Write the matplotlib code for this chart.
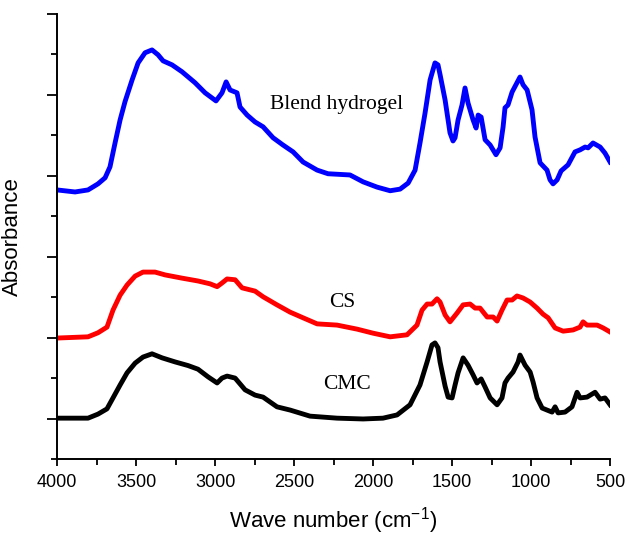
import matplotlib
matplotlib.use("Agg")
import matplotlib.pyplot as plt
from matplotlib.ticker import MultipleLocator, NullFormatter

# ---- data (wavenumber cm-1, absorbance in arbitrary offset units) ----
blend_wn = [4000, 3886, 3804, 3741, 3696, 3665, 3633, 3601, 3570, 3525, 3487, 3443, 3399,
            3361, 3329, 3272, 3209, 3127, 3063, 2994, 2956, 2930, 2905, 2861, 2842, 2797,
            2747, 2696, 2633, 2570, 2506, 2443, 2354, 2285, 2146, 2063, 1975, 1892, 1829,
            1778, 1734, 1703, 1671, 1639, 1608, 1589, 1576, 1544, 1513, 1494, 1481, 1462,
            1437, 1418, 1399, 1367, 1348, 1335, 1316, 1291, 1259, 1222, 1196, 1177, 1165,
            1146, 1120, 1089, 1070, 1051, 1025, 994, 975, 943, 899, 880, 861, 835, 810,
            766, 722, 690, 658, 639, 608, 563, 532, 500]
blend_ab = [6.65, 6.60, 6.65, 6.80, 6.95, 7.22, 7.81, 8.38, 8.83, 9.37, 9.79, 10.04, 10.11,
            9.99, 9.84, 9.74, 9.57, 9.30, 9.05, 8.85, 9.05, 9.32, 9.12, 9.05, 8.70, 8.50,
            8.33, 8.21, 7.94, 7.76, 7.59, 7.34, 7.14, 7.05, 7.02, 6.85, 6.72, 6.63, 6.67,
            6.82, 7.14, 7.81, 8.55, 9.37, 9.79, 9.74, 9.50, 8.87, 8.06, 7.86, 7.94, 8.38,
            8.75, 9.17, 8.80, 8.38, 8.18, 8.50, 8.45, 7.89, 7.76, 7.52, 7.69, 8.21, 8.68,
            8.75, 9.07, 9.30, 9.44, 9.25, 9.12, 8.63, 7.96, 7.32, 7.14, 6.90, 6.80, 6.90,
            7.12, 7.27, 7.59, 7.64, 7.71, 7.69, 7.81, 7.71, 7.56, 7.34]

cs_wn = [4000, 3804, 3741, 3684, 3646, 3601, 3557, 3506, 3456, 3380, 3316, 3209, 3108,
         3032, 2987, 2956, 2924, 2873, 2829, 2747, 2696, 2608, 2525, 2443, 2354, 2228,
         2101, 2000, 1892, 1785, 1722, 1690, 1658, 1627, 1595, 1576, 1544, 1513, 1468,
         1430, 1386, 1354, 1323, 1278, 1240, 1215, 1184, 1152, 1120, 1089, 1051, 1006,
         962, 924, 892, 848, 797, 734, 690, 671, 646, 582, 544, 500]
cs_ab = [2.99, 3.02, 3.12, 3.26, 3.68, 4.05, 4.30, 4.52, 4.62, 4.62, 4.55, 4.47, 4.40,
         4.33, 4.26, 4.35, 4.45, 4.43, 4.23, 4.15, 4.01, 3.81, 3.63, 3.49, 3.34, 3.31,
         3.21, 3.11, 3.02, 3.07, 3.31, 3.68, 3.83, 3.83, 3.96, 3.88, 3.56, 3.39, 3.61,
         3.81, 3.83, 3.73, 3.73, 3.51, 3.51, 3.41, 3.68, 3.93, 3.93, 4.03, 3.98, 3.88,
         3.73, 3.58, 3.49, 3.24, 3.16, 3.19, 3.26, 3.39, 3.31, 3.31, 3.24, 3.14]

cmc_wn = [4000, 3804, 3741, 3684, 3646, 3601, 3557, 3506, 3456, 3399, 3335, 3253, 3171,
          3108, 3044, 2987, 2956, 2924, 2873, 2810, 2747, 2696, 2608, 2525, 2399, 2228,
          2063, 1937, 1848, 1766, 1703, 1658, 1627, 1608, 1589, 1576, 1544, 1525, 1500,
          1481, 1462, 1430, 1399, 1367, 1342, 1316, 1291, 1259, 1215, 1184, 1165, 1146,
          1114, 1082, 1070, 1038, 1006, 987, 962, 930, 899, 867, 848, 829, 785, 741, 709,
          690, 646, 595, 563, 532, 513, 500]
cmc_ab = [1.01, 1.01, 1.11, 1.24, 1.51, 1.83, 2.13, 2.37, 2.52, 2.60, 2.50, 2.40, 2.31,
          2.22, 2.03, 1.88, 2.00, 2.05, 2.00, 1.71, 1.58, 1.53, 1.29, 1.21, 1.06, 1.01,
          0.99, 1.01, 1.09, 1.34, 1.83, 2.40, 2.82, 2.87, 2.75, 2.40, 1.80, 1.53, 1.51,
          1.83, 2.13, 2.50, 2.32, 2.08, 1.88, 1.98, 1.78, 1.51, 1.34, 1.51, 1.88, 2.00,
          2.15, 2.40, 2.57, 2.32, 2.15, 1.90, 1.51, 1.26, 1.21, 1.16, 1.29, 1.14, 1.16,
          1.29, 1.65, 1.51, 1.53, 1.65, 1.48, 1.51, 1.41, 1.34]

labels = ["Blend hydrogel", "CS", "CMC"]
xticks = [4000, 3500, 3000, 2500, 2000, 1500, 1000, 500]

fig = plt.figure(figsize=(6.27, 5.35), dpi=100)
ax = fig.add_axes([0.091, 0.142, 0.882, 0.832])

ax.plot(blend_wn, blend_ab, color="#0000ff", lw=3.5, solid_joinstyle="round")
ax.plot(cs_wn, cs_ab, color="#ff0000", lw=3.5, solid_joinstyle="round")
ax.plot(cmc_wn, cmc_ab, color="#000000", lw=3.5, solid_joinstyle="round")

serif = ["Liberation Serif", "DejaVu Serif"]
ax.text(2228, 8.75, labels[0], fontsize=15.5, family=serif, ha="center", va="center")
ax.text(2196, 3.86, labels[1], fontsize=15.5, family=serif, ha="center", va="center")
ax.text(2165, 1.83, labels[2], fontsize=15.5, family=serif, ha="center", va="center")

ax.set_xlim(4000, 500)
ax.set_ylim(0, 11)
ax.set_xticks(xticks)
ax.xaxis.set_minor_locator(MultipleLocator(250))
ax.set_yticks([1, 3, 5, 7, 9, 11])
ax.yaxis.set_minor_locator(MultipleLocator(2))
ax.yaxis.set_major_formatter(NullFormatter())
ax.yaxis.set_minor_formatter(NullFormatter())

for s in ["top", "right"]:
    ax.spines[s].set_visible(False)
for s in ["left", "bottom"]:
    ax.spines[s].set_linewidth(1.4)

ax.tick_params(axis="x", which="major", direction="out", length=5, width=1.3,
               labelsize=13, pad=6)
ax.tick_params(axis="x", which="minor", direction="out", length=4, width=1.3)
ax.tick_params(axis="y", which="major", direction="out", length=7, width=1.3)
ax.tick_params(axis="y", which="minor", direction="out", length=4.5, width=1.3)
for lab in ax.get_xticklabels():
    lab.set_family(["Liberation Sans", "DejaVu Sans"])

ax.set_xlabel("Wave number (cm$^{\\mathregular{-1}}$)", fontsize=16,
              family=["Liberation Sans", "DejaVu Sans"], labelpad=10)
ax.set_ylabel("Absorbance", fontsize=16, family=["Liberation Sans", "DejaVu Sans"],
              labelpad=14)

fig.savefig("out.png", dpi=100)
